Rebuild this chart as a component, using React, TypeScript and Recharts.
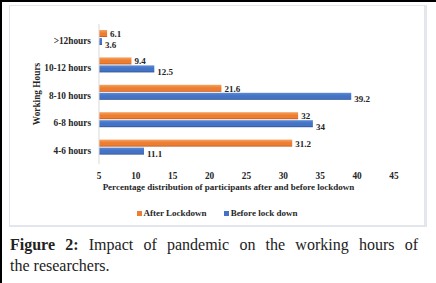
import { BarChart, Bar, XAxis, YAxis, Legend, LabelList } from "recharts";

const HOURS = [">12hours", "10-12 hours", "8-10 hours", "6-8 hours", "4-6 hours"];
const AFTER = [6.1, 9.4, 21.6, 32, 31.2];
const BEFORE = [3.6, 12.5, 39.2, 34, 11.1];
const X_TICKS = [5, 10, 15, 20, 25, 30, 35, 40, 45];

const SERIES = [
  { key: "after", name: "After Lockdown", color: "#ED7D31", light: "#F5A35F", dark: "#B8561A", labelDy: 0.5 },
  { key: "before", name: "Before lock down", color: "#4472C4", light: "#5B8AD8", dark: "#2C4F8F", labelDy: 3 },
];

const data = HOURS.map((h, i) => ({ hours: h, after: AFTER[i], before: BEFORE[i] }));

const FONT = "'Liberation Serif', 'Times New Roman', serif";
const INK = "#262626";
const MIN_BAR = 3;

const renderBar = (p: any) => (
  <rect x={p.x} y={p.y} width={Math.max(p.width, MIN_BAR)} height={p.height} fill={p.fill} />
);

// label right of the bar end, nudged down a little like the original
const makeLabel = (dy: number) => (p: any) => {
  const vb = p.viewBox ?? p;
  const w = Math.max(vb.width, MIN_BAR);
  return (
    <text
      x={vb.x + w + 3}
      y={vb.y + vb.height / 2 + dy}
      dominantBaseline="central"
      fontFamily={FONT}
      fontWeight={700}
      fontSize={9}
      fill={INK}
    >
      {p.value}
    </text>
  );
};

const renderLegend = (props: any) => (
  <div
    style={{
      display: "flex",
      justifyContent: "center",
      alignItems: "center",
      gap: 17,
      height: 12,
      fontFamily: FONT,
      fontWeight: 700,
      fontSize: 9,
      color: INK,
    }}
  >
    {(props.payload || []).map((e: any) => {
      const s = SERIES.find((x) => x.key === e.dataKey);
      return (
        <span key={e.value} style={{ display: "flex", alignItems: "center" }}>
          <span style={{ width: 5, height: 5, background: s?.color, marginRight: 2 }} />
          {e.value}
        </span>
      );
    })}
  </div>
);

export default function App() {
  const tick = { fontFamily: FONT, fontWeight: 700, fontSize: 9.3, fill: INK };
  return (
    <div
      style={{
        position: "absolute",
        left: 0,
        top: 0,
        width: 436,
        height: 283,
        boxSizing: "border-box",
        background: "#fff",
        borderLeft: "2px solid #000",
        borderTop: "2px solid #000",
        overflow: "hidden",
      }}
    >
      <div
        style={{
          position: "absolute",
          left: 7,
          top: 3,
          width: 418,
          height: 222,
          boxSizing: "border-box",
          border: "1px solid #e3e6ec",
          borderRight: "3px solid #e3e6ec",
          borderBottom: "2px solid #e3e6ec",
        }}
      >
        <BarChart
          layout="vertical"
          width={414}
          height={219}
          data={data}
          margin={{ top: 18, right: 30, bottom: 6, left: 0 }}
          barSize={7}
          barGap={1}
        >
          <defs>
            {SERIES.map((s) => (
              <linearGradient key={s.key} id={`g-${s.key}`} x1="0" y1="0" x2="0" y2="1">
                <stop offset="0%" stopColor={s.light} />
                <stop offset="45%" stopColor={s.color} />
                <stop offset="80%" stopColor={s.color} />
                <stop offset="100%" stopColor={s.dark} />
              </linearGradient>
            ))}
          </defs>
          <XAxis
            type="number"
            domain={[5, 45]}
            ticks={X_TICKS}
            interval={0}
            allowDataOverflow
            axisLine={false}
            tickLine={false}
            tickSize={6}
            tickMargin={2}
            height={43}
            tick={tick}
            label={{
              value: "Percentage distribution of participants after and before lockdown",
              position: "insideBottom",
              offset: 17,
              dx: -18,
              fontFamily: FONT,
              fontWeight: 700,
              fontSize: 9,
              fill: INK,
            }}
          />
          <YAxis
            type="category"
            dataKey="hours"
            width={89}
            interval={0}
            axisLine={{ stroke: "#d9d9d9" }}
            tickLine={false}
            tickSize={6}
            tickMargin={2}
            padding={{ top: 0, bottom: 3 }}
            tick={{ ...tick, dy: 3 }}
            label={{
              value: "Working Hours",
              angle: -90,
              position: "insideLeft",
              offset: 27,
              style: { textAnchor: "middle" },
              fontFamily: FONT,
              fontWeight: 700,
              fontSize: 9.3,
              fill: INK,
            }}
          />
          <Legend
            verticalAlign="bottom"
            align="center"
            content={renderLegend}
            wrapperStyle={{ left: 0, width: 414 }}
          />
          {SERIES.map((s) => (
            <Bar
              key={s.key}
              dataKey={s.key}
              name={s.name}
              fill={`url(#g-${s.key})`}
              shape={renderBar}
              isAnimationActive={false}
            >
              <LabelList dataKey={s.key} content={makeLabel(s.labelDy)} />
            </Bar>
          ))}
        </BarChart>
      </div>
      <div
        style={{
          position: "absolute",
          left: 8,
          top: 233,
          width: 408,
          fontFamily: FONT,
          fontSize: 16,
          lineHeight: "20.6px",
          color: "#222",
        }}
      >
        <div style={{ textAlign: "justify", textAlignLast: "justify" }}>
          <b>Figure 2:</b> Impact of pandemic on the working hours of
        </div>
        <div>the researchers.</div>
      </div>
    </div>
  );
}
